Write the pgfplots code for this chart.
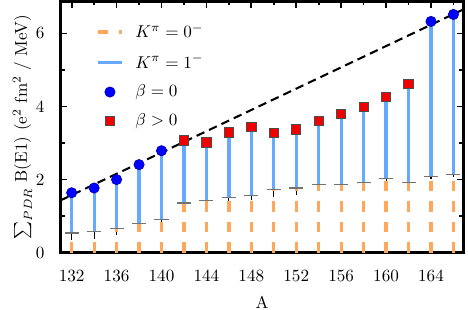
\documentclass[border=0pt]{standalone}
\usepackage{pgfplots}
\usepackage{pgfplotstable}
\pgfplotsset{compat=1.18}
\definecolor{orangebar}{RGB}{255,168,92}
\definecolor{bluebar}{RGB}{102,170,255}
\definecolor{markblue}{RGB}{0,0,255}
\definecolor{markred}{RGB}{240,0,0}
\definecolor{capgray}{RGB}{115,115,115}

\pgfplotstableread{
A   k0    tot   err
132 0.54  1.64  0.18
134 0.58  1.77  0.20
136 0.66  2.00  0.18
138 0.79  2.41  0.12
140 0.91  2.79  0.10
142 1.36  3.07  0.10
144 1.42  3.02  0.10
146 1.52  3.29  0.10
148 1.57  3.44  0.12
150 1.73  3.28  0.20
152 1.77  3.37  0.20
154 1.87  3.61  0.15
156 1.86  3.79  0.10
158 1.93  3.99  0.08
160 2.03  4.26  0.08
162 1.93  4.61  0.08
164 2.09  6.33  0.08
166 2.15  6.52  0.08
}\data

\begin{document}
\begin{tikzpicture}
\begin{axis}[
  scale only axis,
  width=235.4pt, height=146.8pt,
  xmin=131, xmax=166.9,
  ymin=0, ymax=6.88,
  xtick={132,136,...,164},
  minor xtick={134,138,...,166},
  ytick={0,2,4,6},
  minor ytick={1,3,5},
  tick align=inside,
  major tick length=4pt,
  minor tick length=2.4pt,
  every tick/.style={black, line width=1pt},
  axis line style={line width=1.4pt},
  xticklabel style={yshift=-6.7pt},
  yticklabel style={xshift=-5.8pt},
  xlabel={A},
  ylabel={$\sum_{PDR}$ B(E1) (e$^2$ fm$^2$ / MeV)},
  xlabel style={at={(axis description cs:0.5,-0.196)}, anchor=center},
  ylabel style={at={(axis description cs:-0.094,0.5)}, anchor=center, inner sep=0pt, outer sep=0pt},
  legend style={draw=none, fill=none, at={(axis description cs:0.075,0.935)}, anchor=north west,
    row sep=5.3pt, nodes={inner sep=1.5pt}},
  legend cell align=left,
]
% black error bars (drawn first)
\addplot[forget plot, draw=none, mark=none,
  error bars/.cd, y dir=both, y explicit, error mark=none,
  error bar style={draw=black, line width=0.6pt}]
  table[x=A, y=k0, y error=err] {\data};
% orange dashed K=0 bars
\addplot[forget plot, ycomb, orangebar, line width=1.9pt, dash pattern=on 6pt off 6pt]
  table[x=A, y=k0] {\data};
% blue K=1 bars from k0 to total
\addplot[forget plot, draw=none, mark=none,
  error bars/.cd, y dir=plus, y explicit, error mark=none,
  error bar style={draw=bluebar, line width=1.9pt}]
  table[x=A, y=k0, y error expr=\thisrow{tot}-\thisrow{k0}] {\data};
% gray caps
\addplot[forget plot, only marks, mark=-, mark size=4.1pt, mark options={capgray, line width=0.7pt}]
  table[x=A, y=k0] {\data};
% fit line
\addplot[forget plot, black, line width=1.2pt, dash pattern=on 5pt off 3pt]
  coordinates {(131,1.43) (166.9,6.66)};
% markers
\addplot[forget plot, only marks, mark=*, mark size=3pt, mark options={fill=markblue, draw=markblue!70!black, line width=0.4pt}]
  coordinates {(132,1.64) (134,1.77) (136,2.00) (138,2.41) (140,2.79) (164,6.33) (166,6.52)};
\addplot[forget plot, only marks, mark=square*, mark size=2.7pt, mark options={fill=markred, draw=black!70, line width=0.5pt}]
  coordinates {(142,3.07) (144,3.02) (146,3.29) (148,3.44) (150,3.28) (152,3.37) (154,3.61)
               (156,3.79) (158,3.99) (160,4.26) (162,4.61)};

\addlegendimage{legend image code/.code={\path[draw=none,fill=none] (0pt,0pt) -- (20.5pt,0pt); \draw[orangebar, line width=1.9pt, dash pattern=on 6pt off 6.2pt] (0pt,0pt) -- (14.2pt,0pt);}}
\addlegendentry{$K^\pi = 0^-$}
\addlegendimage{legend image code/.code={\path[draw=none,fill=none] (0pt,0pt) -- (20.5pt,0pt); \draw[bluebar, line width=1.9pt] (0pt,0pt) -- (14.2pt,0pt);}}
\addlegendentry{$K^\pi = 1^-$}
\addlegendimage{legend image code/.code={\path[draw=none,fill=none] (0pt,0pt) -- (20.5pt,0pt); \draw[markblue!70!black, fill=markblue, line width=0.4pt] (7.1pt,0pt) circle (3pt);}}
\addlegendentry{$\beta = 0$}
\addlegendimage{legend image code/.code={\path[draw=none,fill=none] (0pt,0pt) -- (20.5pt,0pt); \draw[black!70, fill=markred, line width=0.5pt] (4.4pt,-2.7pt) rectangle (9.8pt,2.7pt);}}
\addlegendentry{$\beta > 0$}
\end{axis}
\pgfresetboundingbox
\path[use as bounding box] ([xshift=-35.3pt, yshift=-33.1pt]current axis.south west) rectangle ([xshift=2.6pt, yshift=0.76pt]current axis.north east);
\end{tikzpicture}
\end{document}
